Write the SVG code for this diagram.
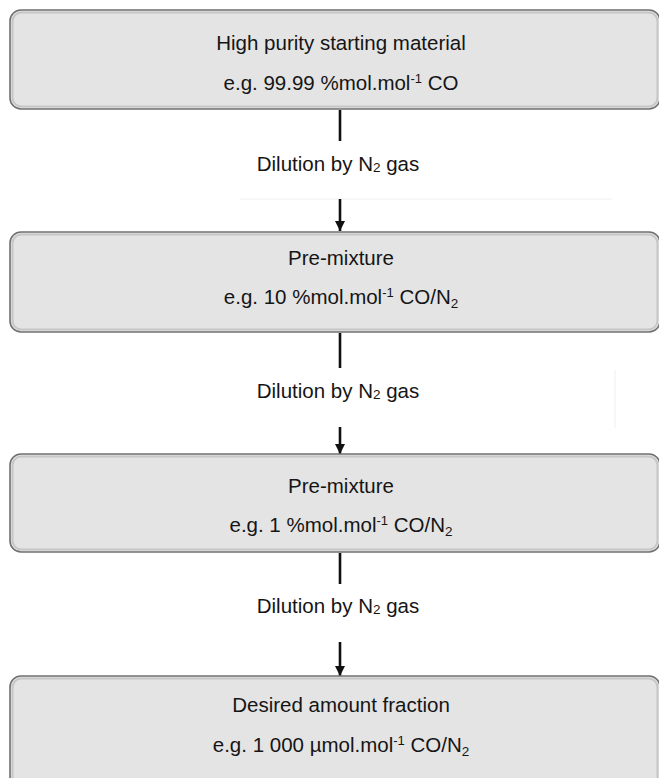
<svg xmlns="http://www.w3.org/2000/svg" width="659" height="778" viewBox="0 0 659 778">
  <style>
    .box { fill: #e4e4e4; stroke: #707070; stroke-width: 1.6; }
    .bevel { fill: none; stroke: #c6c6c6; stroke-width: 2; }
    .t { font-family: "Liberation Sans", Arial, sans-serif; font-size: 20.5px; fill: #151515; text-anchor: middle; }
    .wire { stroke: #111; stroke-width: 2.6; fill: none; }
    .faint { stroke: #f0f0f0; stroke-width: 1; fill: none; }
    .sub { font-size: 13.5px; }
    .sup { font-size: 13px; }
  </style>
  <defs>
    <marker id="arrow" viewBox="0 0 10 10" refX="10" refY="5" markerWidth="4" markerHeight="4" markerUnits="strokeWidth" orient="auto">
      <path d="M0,0 L10,5 L0,10 Z" fill="#111"/>
    </marker>
  </defs>
  <rect width="659" height="778" fill="#ffffff"/>

  <g id="connectors">
    <line class="faint" x1="240" y1="199" x2="612" y2="199"/>
    <line class="faint" x1="615" y1="370" x2="615" y2="428"/>
    <line class="wire" x1="340" y1="110" x2="340" y2="141"/>
    <line class="wire" x1="340" y1="199" x2="340" y2="231" marker-end="url(#arrow)"/>
    <line class="wire" x1="340" y1="333" x2="340" y2="368"/>
    <line class="wire" x1="340" y1="427" x2="340" y2="454" marker-end="url(#arrow)"/>
    <line class="wire" x1="340" y1="553" x2="340" y2="584"/>
    <line class="wire" x1="340" y1="642" x2="340" y2="676" marker-end="url(#arrow)"/>
    <text class="t" x="338" y="171">Dilution by N<tspan class="sub" dy="1">2</tspan><tspan dy="-1"> gas</tspan></text>
    <text class="t" x="338" y="398">Dilution by N<tspan class="sub" dy="1">2</tspan><tspan dy="-1"> gas</tspan></text>
    <text class="t" x="338" y="613">Dilution by N<tspan class="sub" dy="1">2</tspan><tspan dy="-1"> gas</tspan></text>
  </g>

  <g id="start">
    <rect class="box" x="10" y="10" width="650" height="99" rx="11"/>
    <rect class="bevel" x="12.5" y="12.5" width="645" height="94" rx="9"/>
    <text class="t" x="341" y="50">High purity starting material</text>
    <text class="t" x="341" y="90">e.g. 99.99 %mol.mol<tspan class="sup" dy="-7">-1</tspan><tspan dy="7"> CO</tspan></text>
  </g>

  <g id="premix10">
    <rect class="box" x="10" y="232" width="650" height="100" rx="11"/>
    <rect class="bevel" x="12.5" y="234.5" width="645" height="95" rx="9"/>
    <text class="t" x="341" y="265">Pre-mixture</text>
    <text class="t" x="341" y="304">e.g. 10 %mol.mol<tspan class="sup" dy="-7">-1</tspan><tspan dy="7"> CO/N</tspan><tspan class="sub" dy="4">2</tspan></text>
  </g>

  <g id="premix1">
    <rect class="box" x="10" y="454" width="650" height="98" rx="11"/>
    <rect class="bevel" x="12.5" y="456.5" width="645" height="93" rx="9"/>
    <text class="t" x="341" y="493">Pre-mixture</text>
    <text class="t" x="341" y="532">e.g. 1 %mol.mol<tspan class="sup" dy="-7">-1</tspan><tspan dy="7"> CO/N</tspan><tspan class="sub" dy="4">2</tspan></text>
  </g>

  <g id="target">
    <rect class="box" x="10" y="676" width="650" height="114" rx="11"/>
    <rect class="bevel" x="12.5" y="678.5" width="645" height="109" rx="9"/>
    <text class="t" x="341" y="712">Desired amount fraction</text>
    <text class="t" x="341" y="752">e.g. 1 000 µmol.mol<tspan class="sup" dy="-7">-1</tspan><tspan dy="7"> CO/N</tspan><tspan class="sub" dy="4">2</tspan></text>
  </g>
</svg>
